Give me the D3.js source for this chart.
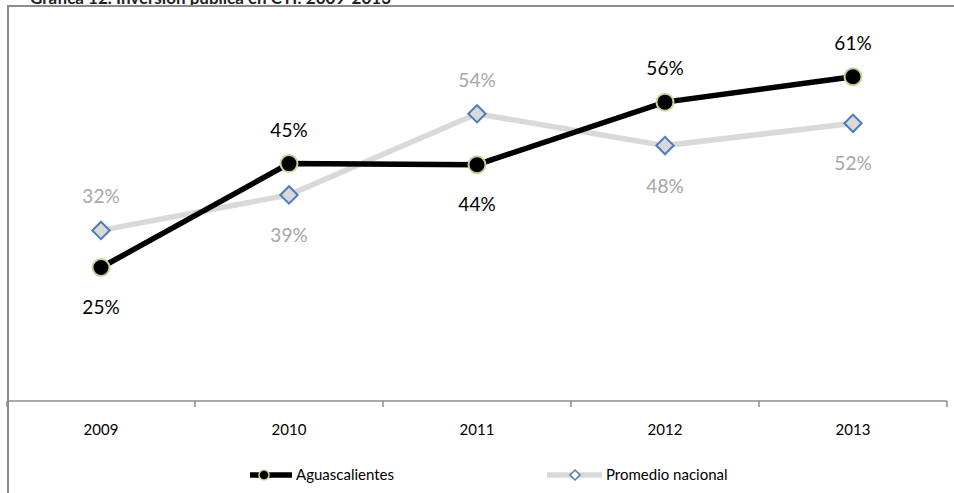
<!DOCTYPE html>
<html>
<head>
<meta charset="utf-8">
<script src="https://cdn.jsdelivr.net/npm/d3@7"></script>
<style>
  body { margin: 0; background: #fff; }
  svg text { font-family: Lato, "Open Sans", sans-serif; }
</style>
</head>
<body>
<div id="chart"></div>
<script>
// data
var years = ["2009", "2010", "2011", "2012", "2013"];
var aguascalientes = [25.0, 44.6, 44.4, 56.2, 61.0];
var promedio = [32.0, 38.7, 54.0, 48.0, 52.2];
var agsLabels = ["25%", "45%", "44%", "56%", "61%"];
var promLabels = ["32%", "39%", "54%", "48%", "52%"];
// label above (-1) or below (+1) the point
var agsSide = [1, -1, 1, -1, -1];
var promSide = [-1, 1, -1, 1, 1];

var svgWidth = 954;
var svgHeight = 493;

var svg = d3.select("#chart")
  .append("svg")
  .attr("width", svgWidth)
  .attr("height", svgHeight);

// title, cut off by the top edge
svg.append("text")
  .attr("x", 30)
  .attr("y", 4)
  .attr("font-size", 17)
  .attr("font-weight", "bold")
  .attr("fill", "#222")
  .text("Gráfica 12. Inversión pública en CTI: 2009-2013");

// chart frame (left + top)
svg.append("path")
  .attr("d", "M8,493 V6 H954")
  .attr("fill", "none")
  .attr("stroke", "#8c8c8c")
  .attr("stroke-width", 2);

var x = d3.scaleBand()
  .domain(years)
  .range([7, 947]);

var y = d3.scaleLinear()
  .domain([0, 70])
  .range([400, 29]);

// x axis
var xAxis = svg.append("g")
  .attr("transform", "translate(0,401)");
xAxis.append("line")
  .attr("x1", 7).attr("x2", 947)
  .attr("stroke", "#8c8c8c").attr("stroke-width", 1.5);
var bounds = [7].concat(years.map(d => x(d) + x.bandwidth()));
xAxis.selectAll(".tk")
  .data(bounds)
  .enter().append("line")
  .attr("x1", d => d).attr("x2", d => d)
  .attr("y1", 0).attr("y2", 6)
  .attr("stroke", "#8c8c8c").attr("stroke-width", 1.5);
xAxis.selectAll(".lbl")
  .data(years)
  .enter().append("text")
  .attr("x", d => x(d) + x.bandwidth() / 2)
  .attr("y", 34)
  .attr("text-anchor", "middle")
  .attr("font-size", 15)
  .attr("fill", "#000")
  .text(d => d);

var cx = d => x(d) + x.bandwidth() / 2;

var line = d3.line()
  .x((d, i) => cx(years[i]))
  .y(d => y(d));

// Promedio nacional
svg.append("path")
  .datum(promedio)
  .attr("d", line)
  .attr("fill", "none")
  .attr("stroke", "#d9d9d9")
  .attr("stroke-width", 5.5);

// Aguascalientes
svg.append("path")
  .datum(aguascalientes)
  .attr("d", line)
  .attr("fill", "none")
  .attr("stroke", "#000")
  .attr("stroke-width", 5.5);

var diamond = d3.symbol().type(d3.symbolSquare).size(150);

svg.selectAll(".prom")
  .data(promedio)
  .enter().append("path")
  .attr("d", diamond)
  .attr("transform", (d, i) => `translate(${cx(years[i])},${y(d)}) rotate(45)`)
  .attr("fill", "#d9d9d9")
  .attr("stroke", "#4a7ebb")
  .attr("stroke-width", 2);

svg.selectAll(".ags")
  .data(aguascalientes)
  .enter().append("circle")
  .attr("cx", (d, i) => cx(years[i]))
  .attr("cy", d => y(d))
  .attr("r", 8.5)
  .attr("fill", "#000")
  .attr("stroke", "#c3d69b")
  .attr("stroke-width", 2);

// data labels
svg.selectAll(".agsLbl")
  .data(aguascalientes)
  .enter().append("text")
  .attr("x", (d, i) => cx(years[i]))
  .attr("y", (d, i) => y(d) + (agsSide[i] < 0 ? -27 : 46))
  .attr("text-anchor", "middle")
  .attr("font-size", 19)
  .attr("fill", "#000")
  .text((d, i) => agsLabels[i]);

svg.selectAll(".promLbl")
  .data(promedio)
  .enter().append("text")
  .attr("x", (d, i) => cx(years[i]))
  .attr("y", (d, i) => y(d) + (promSide[i] < 0 ? -27 : 47))
  .attr("text-anchor", "middle")
  .attr("font-size", 19)
  .attr("fill", "#a6a6a6")
  .text((d, i) => promLabels[i]);

// legend
var legend = svg.append("g").attr("transform", "translate(0,475)");
legend.append("line")
  .attr("x1", 250).attr("x2", 292)
  .attr("stroke", "#000").attr("stroke-width", 5.5);
legend.append("circle")
  .attr("cx", 264).attr("cy", 0).attr("r", 5)
  .attr("fill", "#000").attr("stroke", "#c3d69b").attr("stroke-width", 1.5);
legend.append("text")
  .attr("x", 296).attr("y", 5)
  .attr("font-size", 15)
  .text("Aguascalientes");

legend.append("line")
  .attr("x1", 547).attr("x2", 602)
  .attr("stroke", "#d9d9d9").attr("stroke-width", 5.5);
legend.append("path")
  .attr("d", d3.symbol().type(d3.symbolSquare).size(50))
  .attr("transform", "translate(575,0) rotate(45)")
  .attr("fill", "#fff").attr("stroke", "#4a7ebb").attr("stroke-width", 1.5);
legend.append("text")
  .attr("x", 606).attr("y", 5)
  .attr("font-size", 15)
  .text("Promedio nacional");
</script>
</body>
</html>
